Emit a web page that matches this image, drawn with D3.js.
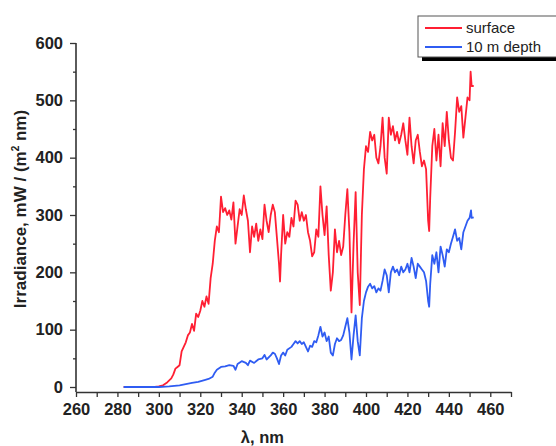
<!DOCTYPE html>
<html>
<head>
<meta charset="utf-8">
<script src="https://cdn.jsdelivr.net/npm/d3@7"></script>
<style>
  body { margin: 0; background: #fff; }
  text { font-family: "Liberation Sans", Arial, sans-serif; }
</style>
</head>
<body>
<div id="chart"></div>
<script>
// surface irradiance, [nm, mW/(m2 nm)]
const surface = [
  [283,0],[290,0],[298,0],[300,1],[302,3],[304,8],[306,15],[307,22],[308,32],[309,35],[310,38],
  [311,62],[312,70],[313,78],[314,90],[315,95],[316,110],[317,98],[318,128],[319,122],[320,133],
  [321,150],[322,140],[323,158],[324,145],[325,190],[326,215],[327,255],[328,280],[329,270],[329.5,300],
  [330,332],[331,305],[332,312],[333,300],[334,308],[335,292],[336,322],[337,250],[338,280],[339,310],
  [340,300],[341,334],[342,310],[343,290],[344,235],[345,280],[346,262],[347,285],[348,255],[349,275],
  [350,258],[351,318],[352,290],[353,270],[354,300],[355,318],[356,305],[357,260],[358,215],[358.5,184],
  [359,230],[360,300],[361,250],[362,270],[363,262],[364,295],[365,280],[366,325],[367,318],[368,290],
  [369,305],[370,290],[371,300],[372,270],[373,255],[374,228],[375,235],[376,275],[377,262],[378,350],
  [379,300],[380,265],[381,315],[382,230],[383,168],[384,200],[385,275],[386,235],[387,255],[388,230],
  [389,245],[390,300],[391,345],[392,270],[393,130],[394,250],[395,340],[396,200],[397,143],[398,300],
  [399,380],[400,420],[401,410],[402,445],[403,430],[404,440],[405,400],[406,390],[407,420],[408,470],
  [409,400],[410,372],[411,470],[412,440],[413,455],[414,430],[415,445],[416,425],[417,440],[418,460],
  [419,430],[420,405],[421,470],[422,420],[423,390],[424,430],[425,440],[426,410],[427,385],[428,395],
  [429,380],[430,290],[430.5,272],[431,330],[432,420],[433,450],[434,395],[435,440],[436,385],[437,460],
  [438,420],[439,480],[440,430],[441,400],[442,395],[443,445],[444,505],[445,480],[446,490],[447,435],
  [448,470],[449,505],[450,500],[450.5,550],[451,525],[452,525]
];

// 10 m depth irradiance
const depth = [
  [283,0],[290,0],[300,0],[305,1],[310,3],[313,5],[316,7],[319,9],[322,12],[324,14],[326,18],
  [327,25],[328,30],[330,35],[332,36],[334,38],[336,37],[337,30],[338,40],[340,45],[342,42],[343,38],
  [344,46],[346,42],[348,48],[350,50],[351,56],[352,48],[354,55],[355,60],[356,58],[357,50],[358,40],
  [359,55],[360,60],[361,55],[362,65],[364,70],[365,75],[366,80],[367,76],[368,80],[369,75],[370,78],
  [371,70],[372,62],[373,72],[374,70],[375,80],[376,78],[377,90],[378,105],[379,88],[380,95],[381,80],
  [382,88],[383,60],[384,55],[385,75],[386,85],[387,80],[388,82],[389,90],[390,105],[391,120],[392,95],
  [393,48],[394,90],[395,125],[396,80],[397,55],[398,120],[399,150],[400,165],[401,175],[402,180],
  [403,172],[404,176],[405,165],[406,172],[407,168],[408,185],[409,205],[410,195],[411,165],[412,200],
  [413,210],[414,200],[415,205],[416,195],[417,210],[418,200],[419,205],[420,215],[421,200],[422,225],
  [423,210],[424,190],[425,215],[426,210],[427,205],[428,200],[429,185],[430,150],[430.5,140],[431,180],
  [432,230],[433,215],[434,235],[435,200],[436,245],[437,230],[438,210],[439,240],[440,235],[441,250],
  [442,262],[443,275],[444,255],[445,260],[446,240],[447,270],[448,280],[449,290],[450,295],[450.7,308],
  [451,295],[452,296]
];

const xTicks = [260, 280, 300, 320, 340, 360, 380, 400, 420, 440, 460];
const yTicks = [0, 100, 200, 300, 400, 500, 600];
const seriesNames = ["surface", "10 m depth"];
const seriesColors = ["#ff1f33", "#2f5cf2"];

const W = 556, H = 446;
const svg = d3.select("#chart").append("svg")
  .attr("width", W).attr("height", H);

// scales
const x = d3.scaleLinear().domain([260, 470]).range([76, 511]);
const y = d3.scaleLinear().domain([0, 600]).range([387, 43]);
const axisY = 392;

// axes
const xAxis = d3.axisBottom(x).tickValues(d3.range(260, 471, 10))
  .tickSize(5).tickSizeOuter(0)
  .tickFormat(d => xTicks.includes(d) ? d : "");
const gx = svg.append("g").attr("transform", `translate(0,${axisY})`).call(xAxis);
gx.select(".domain").attr("stroke", "#333").attr("stroke-width", 1.6);
gx.selectAll(".tick line").attr("stroke", "#333").attr("stroke-width", 1.3);
gx.selectAll(".tick text")
  .attr("y", 11).attr("dy", "0.71em")
  .style("font-size", "16.5px").style("font-weight", "bold").attr("fill", "#222");

const yAxis = d3.axisLeft(y).tickValues(d3.range(0, 601, 50))
  .tickSize(0).tickFormat(d => yTicks.includes(d) ? d : "");
const gy = svg.append("g").attr("transform", "translate(76,0)").call(yAxis);
gy.select(".domain").remove();
gy.selectAll(".tick line")
  .attr("x2", d => yTicks.includes(d) ? -6 : -3)
  .attr("stroke", "#333").attr("stroke-width", 1.3);
gy.selectAll(".tick text")
  .attr("x", -13)
  .style("font-size", "16.5px").style("font-weight", "bold").attr("fill", "#222");
svg.append("line")
  .attr("x1", 76).attr("x2", 76).attr("y1", y(600)).attr("y2", axisY)
  .attr("stroke", "#333").attr("stroke-width", 1.6);

// axis titles
svg.append("text")
  .attr("x", x(350)).attr("y", 443)
  .attr("text-anchor", "middle")
  .style("font-size", "16.5px").style("font-weight", "bold").attr("fill", "#222")
  .text("λ, nm");

const yt = svg.append("text")
  .attr("transform", `translate(26,${y(300) - 6}) rotate(-90)`)
  .attr("text-anchor", "middle")
  .style("font-size", "17px").style("font-weight", "bold").attr("fill", "#222");
yt.append("tspan").text("Irradiance, mW / (m");
yt.append("tspan").attr("dy", -7).style("font-size", "10px").text("2");
yt.append("tspan").attr("dy", 7).text(" nm)");

// lines
const line = d3.line().x(d => x(d[0])).y(d => y(d[1]));
[surface, depth].forEach((s, i) => {
  svg.append("path")
    .datum(s)
    .attr("fill", "none")
    .attr("stroke", seriesColors[i])
    .attr("stroke-width", 1.8)
    .attr("stroke-linejoin", "round")
    .attr("d", line);
});

// legend
const lg = svg.append("g").attr("transform", "translate(418,16)");
lg.append("rect").attr("x", 4).attr("y", 4).attr("width", 140).attr("height", 41).attr("fill", "#000");
lg.append("rect").attr("x", 0).attr("y", 0).attr("width", 140).attr("height", 41)
  .attr("fill", "#fff").attr("stroke", "#555").attr("stroke-width", 1);
seriesNames.forEach((name, i) => {
  const yy = 12 + i * 19;
  lg.append("line").attr("x1", 7).attr("x2", 44).attr("y1", yy).attr("y2", yy)
    .attr("stroke", seriesColors[i]).attr("stroke-width", 2);
  lg.append("text").attr("x", 48).attr("y", yy).attr("dy", "0.35em")
    .style("font-size", "15px").attr("fill", "#222").text(name);
});
</script>
</body>
</html>
